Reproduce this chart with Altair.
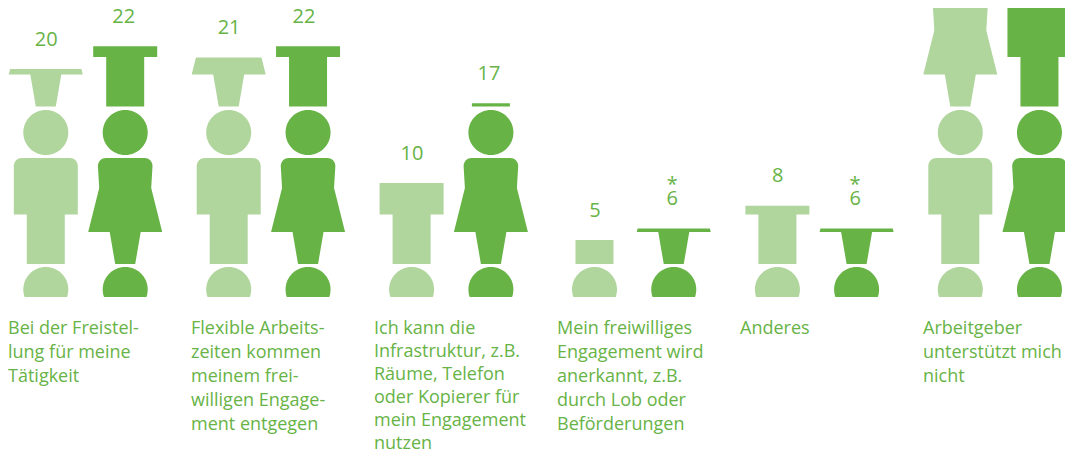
import math
import altair as alt
import pandas as pd

# ---- values ----
categories = [
    ["Bei der Freistel-", "lung für meine", "Tätigkeit"],
    ["Flexible Arbeits-", "zeiten kommen", "meinem frei-", "willigen Engage-", "ment entgegen"],
    ["Ich kann die", "Infrastruktur, z.B.", "Räume, Telefon", "oder Kopierer für", "mein Engagement", "nutzen"],
    ["Mein freiwilliges", "Engagement wird", "anerkannt, z.B.", "durch Lob oder", "Beförderungen"],
    ["Anderes"],
    ["Arbeitgeber", "unterstützt mich", "nicht"],
]
light_values = [20, 21, 10, 5, 8, 26]
dark_values = [22, 22, 17, 6, 6, 26]
light_labels = ["20", "21", "10", "5", "8", ""]
dark_labels = ["22", "22", "17", "6", "6", ""]
dark_star = ["", "", "", "*", "*", ""]
dark_label_shift = [-1.5, -4.0, -2.0, -1.5, -1.5, 0.0]

LIGHT = "#B0D69E"
DARK = "#67B346"
FONT = "Open Sans"

PX_PER_UNIT = 11.4  # pictogram pixels per value unit


# ---- pictogram silhouette (height above foot, half width) ----
def arc(cx_h, cy_w, r, a0, a1, n=8):
    return [(cx_h + r * math.sin(math.radians(a0 + (a1 - a0) * i / n)),
             cy_w + r * math.cos(math.radians(a0 + (a1 - a0) * i / n))) for i in range(n + 1)]


MAN = [(0, 19), (49.49, 19), (49.5, 32), (98, 32)] + arc(98, 24, 8, 0, 90)[1:]
WOMAN = [(0, 10), (31.99, 15.5), (32, 37), (76, 26), (98, 27.3)] + arc(98, 19.3, 8, 0, 90)[1:]
HEAD_R = 22.5
HEAD = [(HEAD_R + HEAD_R * math.sin(math.radians(a)), HEAD_R * math.cos(math.radians(a)))
        for a in range(-90, 91, 6)]
STACK_LIGHT = [(HEAD, -15), (MAN, 33), (HEAD, 142), (WOMAN, 190.5)]
STACK_DARK = [(HEAD, -15), (WOMAN, 33), (HEAD, 142), (MAN, 190.5)]


def clip_profile(profile, base, top):
    pts = [(h + base, w) for h, w in profile]
    out = []
    for p, q in zip(pts, pts[1:]):
        if p[0] < 0 < q[0]:
            t = (0 - p[0]) / (q[0] - p[0])
            out.append((0.0, p[1] + t * (q[1] - p[1])))
        if 0 <= p[0] <= top:
            out.append(p)
        if p[0] < top < q[0]:
            t = (top - p[0]) / (q[0] - p[0])
            out.append((top, p[1] + t * (q[1] - p[1])))
    if 0 <= pts[-1][0] <= top:
        out.append(pts[-1])
    return out


rows = []
for g in range(6):
    for series, stack, vals, cx in (("light", STACK_LIGHT, light_values, 45.8 + 182.9 * g),
                                    ("dark", STACK_DARK, dark_values, 125.2 + 182.85 * g)):
        top = vals[g] * PX_PER_UNIT
        for k, (prof, base) in enumerate(stack):
            for i, (h, w) in enumerate(clip_profile(prof, base, top)):
                rows.append(dict(piece=f"{g}-{series}-{k}", series=series,
                                 v=float(h / PX_PER_UNIT), xa=float(cx - w), xb=float(cx + w)))
shapes = pd.DataFrame(rows)

labels = []
for g in range(6):
    labels.append(dict(x=46.2 + 182.9 * g, v=light_values[g], t=light_labels[g], s=""))
    labels.append(dict(x=125.2 + 182.85 * g + dark_label_shift[g], v=dark_values[g],
                       t=dark_labels[g], s=dark_star[g]))
labels = pd.DataFrame(labels)
labels = labels[labels.t != ""]
stars = labels[labels.s != ""]

cats = pd.DataFrame(dict(x=[8 + 183 * g for g in range(6)], v=[-2.0] * 6, t=categories, n=[len(c) for c in categories]))

W, H = 1057, 441
x_scale = alt.Scale(domain=[8, 8 + W], range=[0, W], nice=False, zero=False)
y_scale = alt.Scale(domain=[(297 - 8 - H) / PX_PER_UNIT, (297 - 8) / PX_PER_UNIT], range=[H, 0], nice=False, zero=False)
x = alt.X("x:Q", scale=x_scale, axis=None)
y = alt.Y("v:Q", scale=y_scale, axis=None)

body = alt.Chart(shapes).mark_area(orient="horizontal", opacity=1).encode(
    x=alt.X("xa:Q", scale=x_scale, axis=None),
    x2=alt.X2("xb"),
    y=y,
    detail="piece:N",
    color=alt.Color("series:N", legend=None,
                    scale=alt.Scale(domain=["light", "dark"], range=[LIGHT, DARK])),
)
value_text = alt.Chart(labels).mark_text(
    font=FONT, fontSize=20, color=DARK, align="center", baseline="middle", dy=-29.5
).encode(x=x, y=y, text="t:N")
star_text = alt.Chart(stars).mark_text(
    font=FONT, fontSize=20, color=DARK, align="center", baseline="middle", dy=-44
).encode(x=x, y=y, text="s:N")
cat_text = alt.Chart(cats[cats.n < 6]).mark_text(
    font=FONT, fontSize=18, color=DARK, align="left", baseline="top", lineHeight=24
).encode(x=x, y=y, text="t")
cat_text_long = alt.Chart(cats[cats.n >= 6]).mark_text(
    font=FONT, fontSize=18, color=DARK, align="left", baseline="top", lineHeight=23
).encode(x=x, y=y, text="t")

chart = alt.layer(body, value_text, star_text, cat_text, cat_text_long).properties(
    width=W, height=H, padding=0, background="white",
    autosize=alt.AutoSizeParams(type="none"),
).configure_view(stroke=None)

chart.save("out.html", embed_options={"renderer": "svg", "actions": False})
